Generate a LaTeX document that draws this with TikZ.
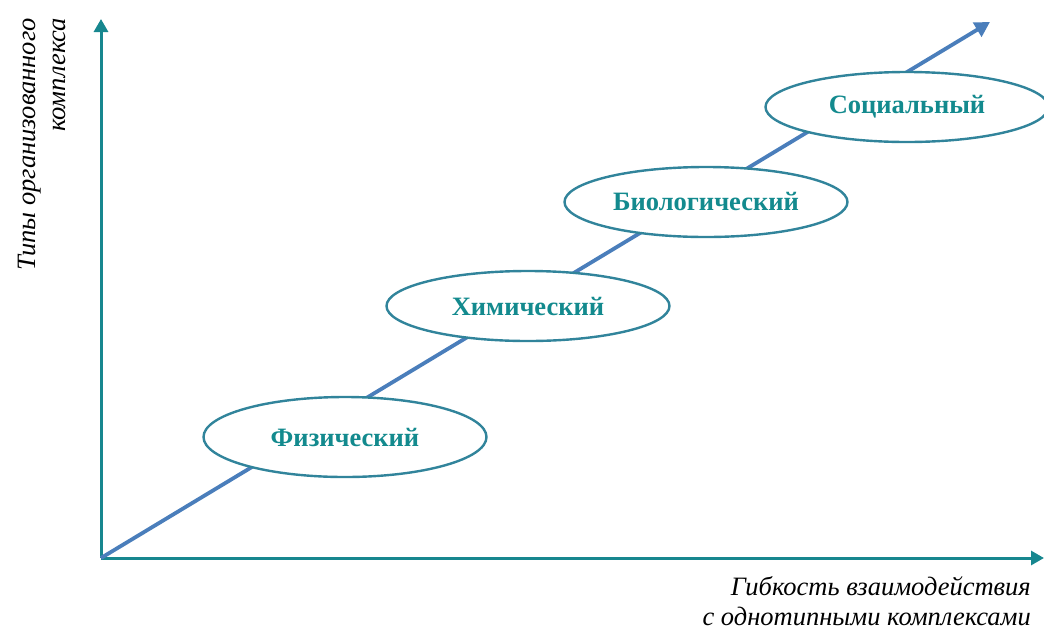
\documentclass[tikz,border=0pt]{standalone}
\usepackage{fontspec}
\setmainfont{Liberation Serif}
\usetikzlibrary{shapes.geometric,arrows.meta}
\definecolor{axiscol}{HTML}{17878F}
\definecolor{textcol}{HTML}{138A8E}
\definecolor{ellcol}{HTML}{31849B}
\definecolor{diagcol}{HTML}{4A7EBB}
\tikzset{
  axis/.style={draw=axiscol, line width=3pt, -{Triangle[length=13pt,width=14pt]}},
  diag/.style={draw=diagcol, line width=3.8pt, -{Triangle[length=15pt,width=16pt]}},
  stage/.style={ellipse, draw=ellcol, line width=2.4pt, fill=white, minimum width=283pt, minimum height=70pt, inner sep=0pt, text=textcol, font=\fontsize{26.5}{30}\selectfont\bfseries},
  lbl/.style={font=\fontsize{26.5}{30}\selectfont\itshape, text=black, inner sep=0pt}
}
\begin{document}
\begin{tikzpicture}[x=1pt,y=-1pt]
\useasboundingbox (0,0) rectangle (1044,630);
\coordinate (O) at (101,558);
\coordinate (Ytop) at (101,19);
\coordinate (Xend) at (1044,558);
\coordinate (Dend) at (990,22);
\draw[axis] (O) -- (Ytop);
\draw[axis] (O) -- (Xend);
\draw[diag] (O) -- (Dend);
\node[stage, minimum height=80pt] (phys) at (345,437) {Физический};
\node[stage] (chem) at (528,306) {Химический};
\node[stage] (bio) at (706,202) {Биологический};
\node[stage] (soc) at (907,107) {Социальный};
\node[lbl, rotate=90, anchor=east, align=right] (ylab) at (42,18) {Типы организованного\\комплекса};
\node[lbl, anchor=north east, align=right] (xlab) at (1031,576) {Гибкость взаимодействия\\с однотипными комплексами};
\end{tikzpicture}
\end{document}
